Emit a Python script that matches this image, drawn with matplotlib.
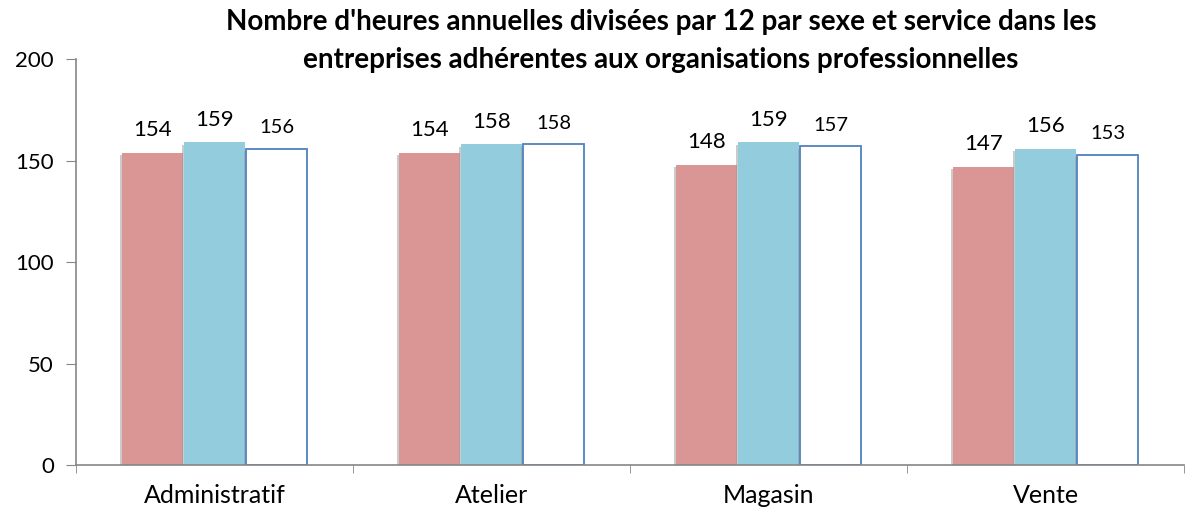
import matplotlib
matplotlib.use("Agg")
import matplotlib.pyplot as plt
import matplotlib.patheffects as pe
import numpy as np

plt.rcParams['font.family'] = ['Lato', 'DejaVu Sans']

# heures annuelles / 12 par service
services = ["Administratif", "Atelier", "Magasin", "Vente"]
femmes = [154, 154, 148, 147]
hommes = [159, 158, 159, 156]
total = [156, 158, 157, 153]

titre = ("Nombre d'heures annuelles divisées par 12 par sexe et service dans les\n"
         "entreprises adhérentes aux organisations professionnelles")

fig = plt.figure(figsize=(11.89, 5.15), dpi=100)
ax = fig.add_axes([0.0639, 0.097, 0.932, 0.788])

x = np.arange(len(services))
w = 0.22
ombre = [pe.SimplePatchShadow(offset=(-1.5, -1.5), shadow_rgbFace='0.6', alpha=0.5), pe.Normal()]

series = [
    (femmes, dict(color='#D99694', edgecolor='none'), 16),
    (hommes, dict(color='#93CDDD', edgecolor='none'), 16),
    (total, dict(color='white', edgecolor='#4F81BD', linewidth=1.3), 14.5),
]
for i, (vals, style, fs) in enumerate(series):
    pos = x + (i - 1) * (w + 0.005)
    bars = ax.bar(pos, vals, w, **style)
    for b in bars:
        b.set_path_effects(ombre)
    for xi, v in zip(pos, vals):
        ax.annotate(str(v), (xi, v), xytext=(0, 9), textcoords='offset points',
                    ha='center', va='bottom', fontsize=fs)

ax.set_xlim(-0.5, len(services) - 0.5)
ax.set_ylim(0, 200)
ax.set_yticks([0, 50, 100, 150, 200])
ax.set_xticks(x)
ax.set_xticklabels(services, fontsize=18)
ax.tick_params(axis='x', length=0, pad=14)
ax.set_xticks(np.arange(len(services) + 1) - 0.5, minor=True)
ax.tick_params(axis='x', which='minor', length=6, color='#868686')
ax.tick_params(axis='y', labelsize=16, length=7, color='#868686', pad=9)

for s in ['top', 'right']:
    ax.spines[s].set_visible(False)
for s in ['left', 'bottom']:
    ax.spines[s].set_color('#868686')
    ax.spines[s].set_linewidth(1.2)

fig.text(0.556, 0.982, titre, ha='center', va='top', fontsize=20,
         fontweight='bold', linespacing=1.55)

fig.savefig('out.png', dpi=100)
